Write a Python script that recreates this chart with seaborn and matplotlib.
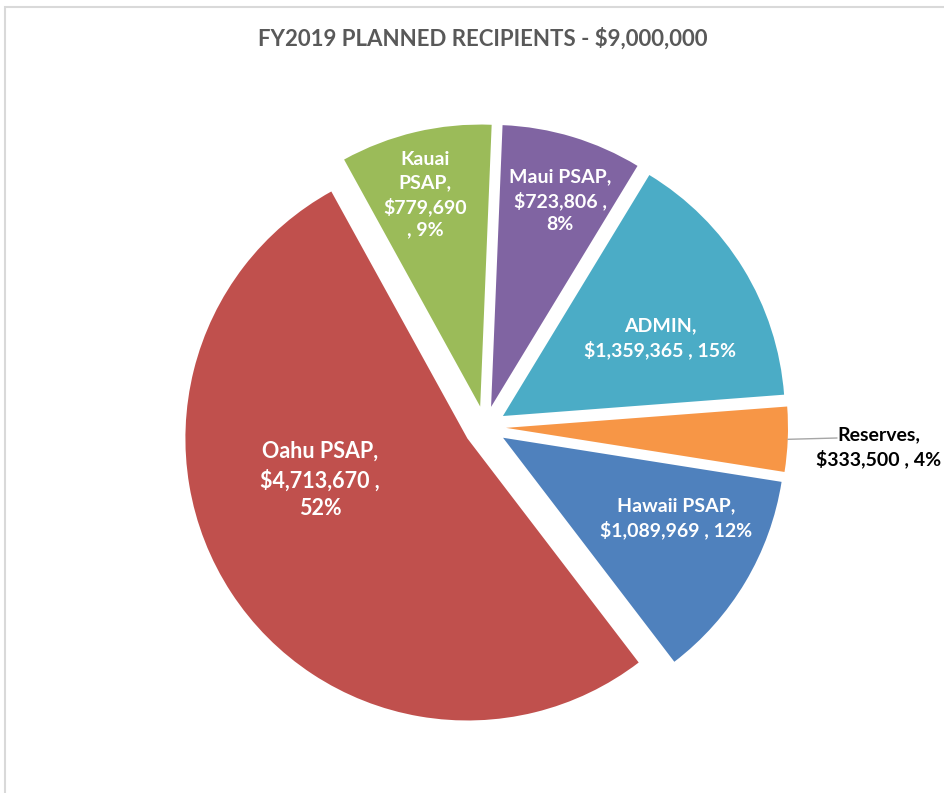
import textwrap
import matplotlib
matplotlib.use("Agg")
import matplotlib.pyplot as plt
from matplotlib.patches import Rectangle
import numpy as np
import seaborn as sns

# Data
recipients = ["Hawaii PSAP", "Oahu PSAP", "Kauai PSAP", "Maui PSAP", "ADMIN", "Reserves"]
amounts = [1089969, 4713670, 779690, 723806, 1359365, 333500]
colors = ["#4F81BD", "#C0504D", "#9BBB59", "#8064A2", "#4BACC6", "#F79646"]
title = "FY2019 PLANNED RECIPIENTS - $9,000,000"

# Layout (pixel-like axes coordinates, y up)
W, H = 945, 793
CENTER = (485, H - 427)
RADIUS = 282
EXPLODE = 21          # absolute offset in axes units
FIRST_SLICE_ANGLE = 99  # Excel style: degrees clockwise from 12 o'clock
WRAP = [16, 12, 8, 10, 16, 14]
LABEL_XY = [(676, H - 518), (320, H - 480), (425, H - 195),
            (560, H - 201), (660, H - 338), (879, H - 447)]
LABEL_SIZE = [14, 15.5, 14, 14, 14, 14]
LABEL_COLOR = ["white", "white", "white", "white", "white", "black"]

sns.set_theme(style="white")
plt.rcParams["font.family"] = ["Lato", "DejaVu Sans"]

fig = plt.figure(figsize=(W / 100, H / 100), dpi=100)
ax = fig.add_axes([0, 0, 1, 1])

total = sum(amounts)
wedges, _ = ax.pie(amounts, explode=[EXPLODE] * len(amounts), radius=RADIUS,
                   center=CENTER, startangle=90 - FIRST_SLICE_ANGLE,
                   counterclock=False, colors=sns.color_palette(colors),
                   wedgeprops=dict(linewidth=0))

for i, (name, val) in enumerate(zip(recipients, amounts)):
    pct = round(100 * val / total)
    txt = textwrap.fill(f"{name}, ${val:,} , {pct}%", width=WRAP[i])
    ax.text(LABEL_XY[i][0], LABEL_XY[i][1], txt, ha="center", va="center",
            fontsize=LABEL_SIZE[i], fontweight="bold", color=LABEL_COLOR[i],
            linespacing=1.4)

# leader line for the small Reserves slice
w = wedges[-1]
mid = np.deg2rad((w.theta1 + w.theta2) / 2)
edge = (w.center[0] + RADIUS * np.cos(mid), w.center[1] + RADIUS * np.sin(mid))
ax.plot([edge[0], LABEL_XY[-1][0] - 42], [edge[1], LABEL_XY[-1][1] + 9],
        color="#A6A6A6", lw=1)

ax.text(483, H - 46, title, ha="center", va="baseline", fontsize=16,
        fontweight="bold", color="#595959")

# chart area border (right/bottom cut off)
ax.add_patch(Rectangle((5, -20), W + 50, H - 7 + 20, fill=False,
                       edgecolor="#D9D9D9", lw=1.5))

ax.set_xlim(0, W)
ax.set_ylim(0, H)
ax.set_axis_off()

fig.savefig("out.png", dpi=100)
